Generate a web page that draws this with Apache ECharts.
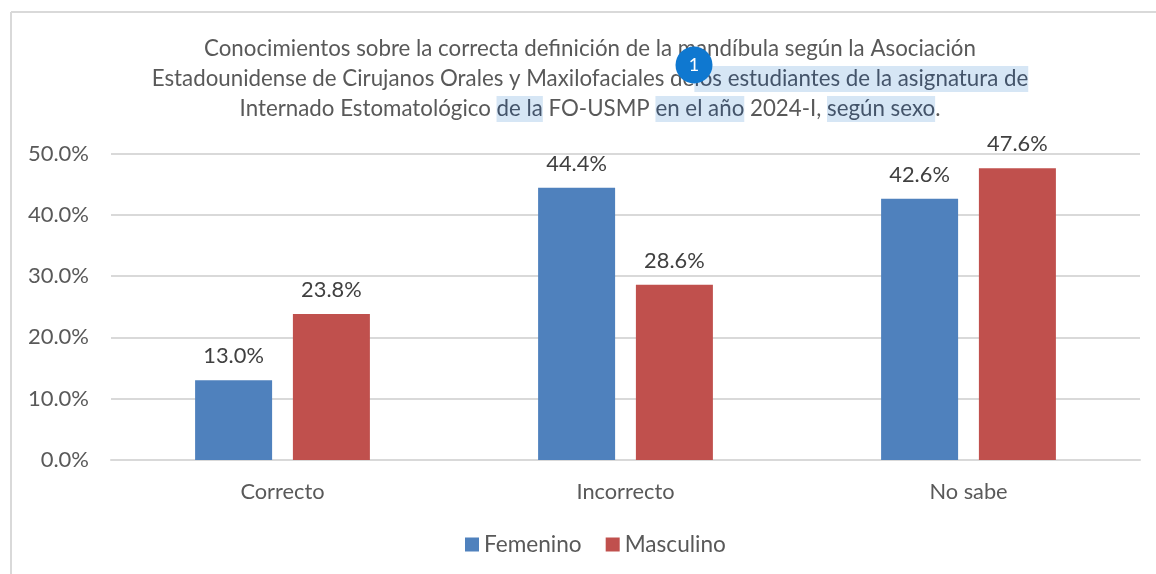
<!DOCTYPE html>
<html><head><meta charset="utf-8">
<style>html,body{margin:0;padding:0;background:#fff}#c{width:1156px;height:574px}</style>
<script src="https://cdn.jsdelivr.net/npm/echarts@6/dist/echarts.min.js"></script>
</head><body><div id="c"></div>
<script>
const categories = ['Correcto', 'Incorrecto', 'No sabe'];
const femenino = [13.0, 44.4, 42.6];
const masculino = [23.8, 28.6, 47.6];
const titleText = 'Conocimientos sobre la correcta definición de la mandíbula según la Asociación\n' +
  'Estadounidense de Cirujanos Orales y Maxilofaciales de{h|los estudiantes de la asignatura de}\n' +
  'Internado Estomatológico {h|de la} FO-USMP {h|en el año} 2024-I, {h|según sexo}.';
const FONT = 'Lato';
const GREY = '#595959';
const chart = echarts.init(document.getElementById('c'), null, {renderer: 'canvas'});
const fmt = v => v.toFixed(1) + '%';
const label = {show: true, position: 'top', distance: 13, color: '#404040', fontFamily: FONT, fontSize: 21.8,
  formatter: p => fmt(p.value)};
chart.setOption({
  animation: false,
  backgroundColor: '#fff',
  title: {
    text: titleText, left: 585, top: 29, textAlign: 'center',
    textStyle: {
      color: GREY, fontFamily: FONT, fontSize: 22.3, fontWeight: 'normal', lineHeight: 30,
      rich: {h: {color: '#44546a', fontFamily: FONT, fontSize: 22.3, lineHeight: 30, height: 26, backgroundColor: '#d6e6f5'}}
    }
  },
  grid: {left: 111, right: 16, top: 153.5, bottom: 114, containLabel: false},
  legend: {
    bottom: 13, left: 460, icon: 'rect', itemWidth: 14, itemHeight: 14, itemGap: 24,
    textStyle: {color: GREY, fontFamily: FONT, fontSize: 22.6},
    data: ['Femenino', 'Masculino']
  },
  xAxis: {
    type: 'category', data: categories,
    axisLine: {lineStyle: {color: '#d9d9d9', width: 2}}, axisTick: {show: false},
    axisLabel: {color: GREY, fontFamily: FONT, fontSize: 21.8, margin: 21}
  },
  yAxis: {
    type: 'value', min: 0, max: 50, interval: 10,
    axisLine: {show: false}, axisTick: {show: false},
    splitLine: {lineStyle: {color: '#d9d9d9', width: 2}},
    axisLabel: {color: GREY, fontFamily: FONT, fontSize: 22, margin: 22, formatter: fmt}
  },
  series: [
    {name: 'Femenino', type: 'bar', data: femenino, barWidth: 77, barGap: '27%', itemStyle: {color: '#4f81bd'}, label},
    {name: 'Masculino', type: 'bar', data: masculino, barWidth: 77, itemStyle: {color: '#c0504d'}, label}
  ],
  graphic: [
    {type: 'line', shape: {x1: 11, y1: 12, x2: 1156, y2: 12}, style: {stroke: '#d9d9d9', lineWidth: 2}, silent: true},
    {type: 'line', shape: {x1: 11, y1: 12, x2: 11, y2: 574}, style: {stroke: '#d9d9d9', lineWidth: 2}, silent: true},
    {type: 'circle', shape: {cx: 694, cy: 65, r: 18.5}, style: {fill: '#0f78d0'}, z: 100, silent: true},
    {type: 'text', x: 694, y: 65, z: 101, silent: true,
      style: {text: '1', fill: '#fff', font: '18px ' + FONT, textAlign: 'center', textVerticalAlign: 'middle'}}
  ]
});
</script></body></html>
